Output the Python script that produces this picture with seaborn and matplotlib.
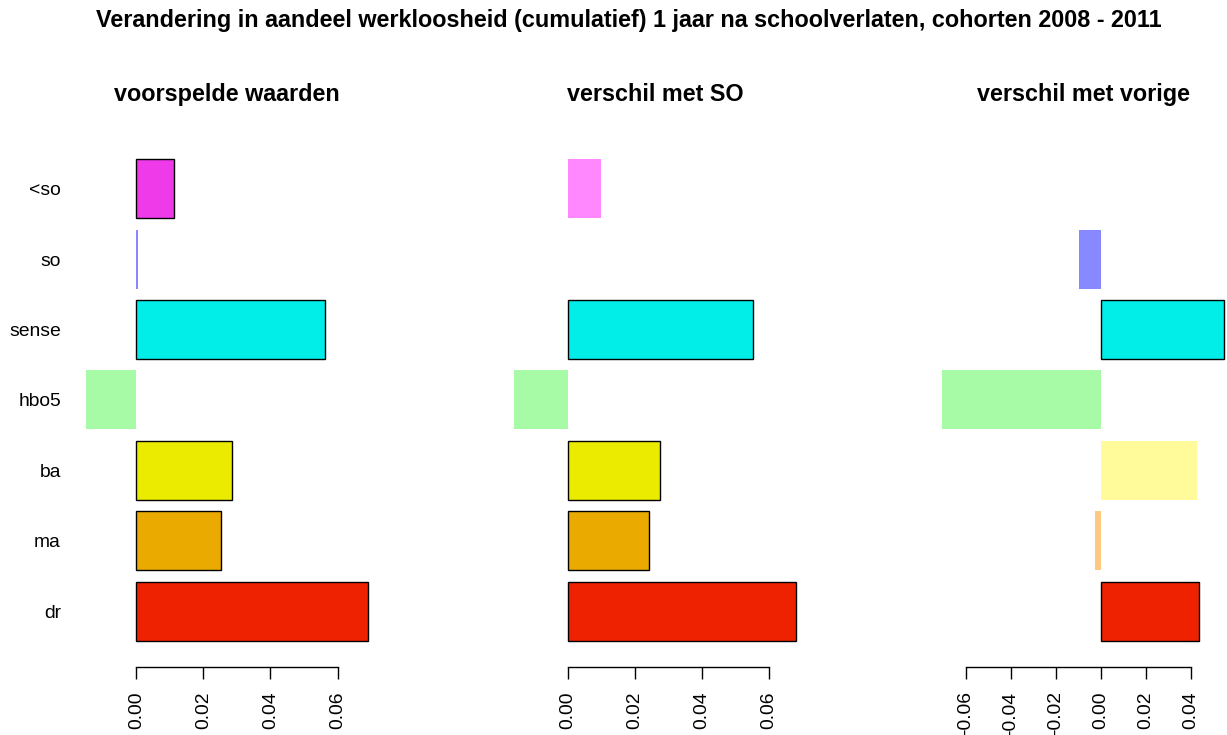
import matplotlib
matplotlib.use("Agg")
import matplotlib.pyplot as plt
import pandas as pd
import seaborn as sns

# data
cats = ["<so", "so", "sense", "hbo5", "ba", "ma", "dr"]
voorspeld = [0.0113, 0.0006, 0.0563, -0.0150, 0.0284, 0.0253, 0.0691]
verschil_so = [0.0099, 0.0, 0.0551, -0.0161, 0.0274, 0.0242, 0.0680]
verschil_vorige = [0.0, -0.0095, 0.0549, -0.0706, 0.0429, -0.0025, 0.0437]
sig_voorspeld = [True, False, True, False, True, True, True]
sig_so = [False, False, True, False, True, True, True]
sig_vorige = [False, False, True, False, False, False, True]
kleur = ["#EE3AE8", "#3A3AF0", "#00EDE8", "#55F54D", "#EBEB00", "#EAAA00", "#EE2200"]
kleur_licht = ["#FF88FF", "#8888FF", "#80F6F4", "#A8FBA6", "#FFFA9A", "#FFC880", "#F69080"]
ticks_12 = [0.0, 0.02, 0.04, 0.06]
ticks_3 = [-0.06, -0.04, -0.02, 0.0, 0.02, 0.04]

titels = ["voorspelde waarden", "verschil met SO", "verschil met vorige"]
hoofdtitel = "Verandering in aandeel werkloosheid (cumulatief) 1 jaar na schoolverlaten, cohorten 2008 - 2011"

sns.set_style("white")
plt.rcParams["font.family"] = ["Liberation Sans", "DejaVu Sans"]
plt.rcParams["text.color"] = "black"
plt.rcParams["xtick.color"] = "black"
plt.rcParams["ytick.color"] = "black"

fig = plt.figure(figsize=(12.27, 7.35), dpi=100)
W, H = 1227, 735
lefts = [74.8, 502.8, 930.8]
breedte = 304.5
top_px, bottom_px = 139, 667

panelen = [
    (voorspeld, sig_voorspeld, ticks_12),
    (verschil_so, sig_so, ticks_12),
    (verschil_vorige, sig_vorige, ticks_3),
]

for i, (vals, sig, ticks) in enumerate(panelen):
    ax = fig.add_axes([lefts[i] / W, (H - bottom_px) / H, breedte / W, (bottom_px - top_px) / H])
    df = pd.DataFrame({"cat": cats, "waarde": vals, "sig": sig})
    pal_sig = dict(zip(cats, kleur))
    pal_ns = dict(zip(cats, kleur_licht))
    d1 = df[df["sig"]]
    d2 = df[~df["sig"]]
    sns.barplot(data=d2, x="waarde", y="cat", hue="cat", order=cats, hue_order=cats,
                palette=pal_ns, width=0.838, linewidth=0, legend=False, ax=ax,
                orient="h", dodge=False, saturation=1)
    sns.barplot(data=d1, x="waarde", y="cat", hue="cat", order=cats, hue_order=cats,
                palette=pal_sig, width=0.838, edgecolor="black", linewidth=1.0,
                legend=False, ax=ax, orient="h", dodge=False, saturation=1)
    for p in ax.patches:
        p.set_alpha(1)
    # R-style limits: range incl. 0, padded 4%
    lo, hi = min(0, min(vals)), max(0, max(vals))
    pad = (hi - lo) * 0.04
    ax.set_xlim(lo - pad, hi + pad)
    ax.set_ylim(6.792, -0.706)
    ax.set_xlabel("")
    ax.set_ylabel("")
    ax.set_xticks(ticks)
    ax.set_xticklabels([f"{t:.2f}" for t in ticks], rotation=90, fontsize=13.9)
    ax.tick_params(axis="x", direction="out", length=8.6, width=1.0, pad=9, bottom=True,
                   colors="black", labelcolor="black")
    ax.tick_params(axis="y", length=0, pad=10, labelsize=13.9, labelcolor="black")
    if i > 0:
        ax.set_yticklabels([])
    sns.despine(ax=ax, left=True, top=True, right=True)
    ax.spines["bottom"].set_bounds(ticks[0], ticks[-1])
    ax.spines["bottom"].set_linewidth(1.0)
    ax.spines["bottom"].set_color("black")
    ax.set_title(titels[i], fontsize=16.8, fontweight="bold", color="black",
                 pad=0, y=1.0 + (139 - 93 - 8) / 528)

fig.text(629 / W, 1 - 20 / H, hoofdtitel, ha="center", va="center", fontsize=16.8,
         fontweight="bold", color="black")

fig.savefig("out.png", dpi=100)
